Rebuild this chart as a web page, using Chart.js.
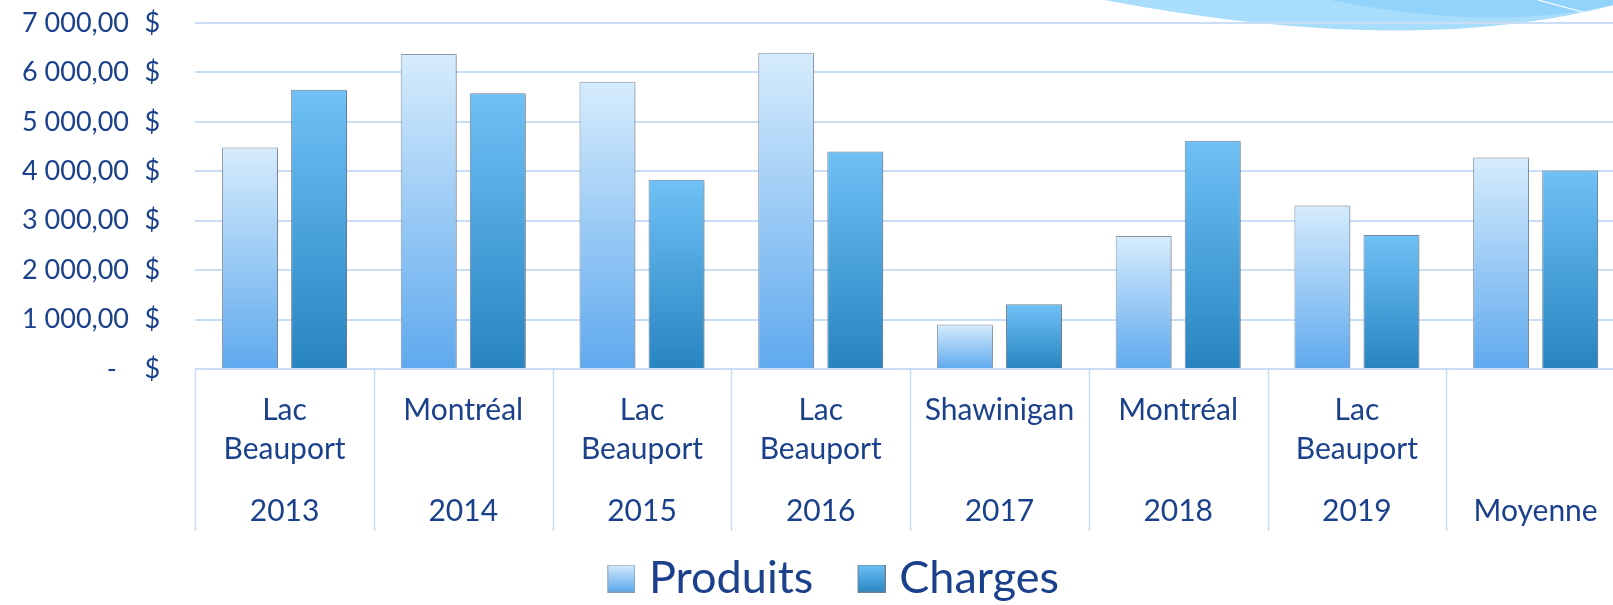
<!DOCTYPE html>
<html lang="fr">
<head>
<meta charset="utf-8">
<title>Produits et charges</title>
<script src="https://cdn.jsdelivr.net/npm/chart.js@4.4.0/dist/chart.umd.min.js"></script>
<style>
    html, body { margin: 0; padding: 0; background: #fff; overflow: hidden; }
    #wrap { position: relative; width: 1654px; height: 611px; }
</style>
</head>
<body>
<div id="wrap"><canvas id="chart"></canvas></div>
<script>
// Data
const cities = [['Lac', 'Beauport'], 'Montréal', ['Lac', 'Beauport'], ['Lac', 'Beauport'], 'Shawinigan', 'Montréal', ['Lac', 'Beauport'], ''];
const years = ['2013', '2014', '2015', '2016', '2017', '2018', '2019', 'Moyenne'];
const produits = [4480, 6375, 5810, 6400, 900, 2690, 3310, 4281];
const charges = [5650, 5580, 3830, 4400, 1310, 4620, 2710, 4014];

const TEXT = '#1b408c';
const GRID = '#c9ddf5';

function barGradient(topColor, bottomColor) {
    return function(context) {
        const chart = context.chart;
        if (!chart.chartArea || context.type !== 'data') return bottomColor;
        const y = chart.scales.y;
        const g = chart.ctx.createLinearGradient(0, y.getPixelForValue(context.raw), 0, y.getPixelForValue(0));
        g.addColorStop(0, topColor);
        g.addColorStop(1, bottomColor);
        return g;
    };
}

// Legend swatch drawn on a small canvas, square on the right side
function legendSwatch(topColor, bottomColor, border) {
    const c = document.createElement('canvas');
    c.width = 56; c.height = 28;
    const cx = c.getContext('2d');
    const g = cx.createLinearGradient(0, 0, 0, 27);
    g.addColorStop(0, topColor);
    g.addColorStop(1, bottomColor);
    cx.fillStyle = g;
    cx.fillRect(28.5, 0.5, 27, 27);
    cx.strokeStyle = border;
    cx.lineWidth = 1;
    cx.strokeRect(28.5, 0.5, 27, 27);
    return c;
}

function money(v) {
    if (v === 0) return '-\u00a0\u00a0\u00a0\u00a0$';
    return v.toFixed(2).replace('.', ',').replace(/\B(?=(\d{3})+(?!\d))/g, '\u00a0') + '\u00a0\u00a0\u200a$';
}

const decoPlugin = {
    id: 'deco',
    beforeDraw(chart) {
        const ctx = chart.ctx;
        ctx.save();
        ctx.fillStyle = 'rgba(160, 217, 252, 0.9)';
        ctx.beginPath();
        ctx.moveTo(1104, 0);
        ctx.quadraticCurveTo(1420, 60, 1625, 2);
        ctx.lineTo(1625, 0);
        ctx.closePath();
        ctx.fill();
        ctx.fillStyle = 'rgba(130, 205, 250, 0.6)';
        ctx.beginPath();
        ctx.moveTo(1330, 0);
        ctx.quadraticCurveTo(1500, 34, 1625, 2);
        ctx.lineTo(1625, 0);
        ctx.closePath();
        ctx.fill();
        ctx.strokeStyle = '#ffffff';
        ctx.lineWidth = 1.2;
        ctx.beginPath();
        ctx.moveTo(1538, 0);
        ctx.lineTo(1590, 14);
        ctx.stroke();
        ctx.restore();
    }
};

const separatorPlugin = {
    id: 'separators',
    afterDraw(chart) {
        const x = chart.scales.x;
        const x2 = chart.scales.x2;
        const ctx = chart.ctx;
        ctx.save();
        ctx.strokeStyle = GRID;
        ctx.lineWidth = 1.5;
        for (let i = 0; i <= years.length; i++) {
            const px = Math.round(x.getPixelForValue(i - 0.5)) + 0.5;
            ctx.beginPath();
            ctx.moveTo(px, chart.chartArea.bottom);
            ctx.lineTo(px, x2.bottom);
            ctx.stroke();
        }
        ctx.restore();
    }
};

const shadowPlugin = {
    id: 'barShadow',
    beforeDatasetsDraw(chart) {
        const ctx = chart.ctx;
        ctx.save();
        ctx.shadowColor = 'rgba(0, 0, 0, 0.22)';
        ctx.shadowBlur = 4;
        ctx.shadowOffsetX = 2;
        ctx.shadowOffsetY = 1;
    },
    afterDatasetsDraw(chart) {
        chart.ctx.restore();
    }
};

const swatches = [
    legendSwatch('#d6ecfc', '#5fa9ee', '#8a9bb0'),
    legendSwatch('#6fc1f6', '#2a87c4', '#6f8196')
];

new Chart(document.getElementById('chart'), {
    type: 'bar',
    data: {
        labels: cities,
        datasets: [
            {
                label: 'Produits',
                data: produits,
                backgroundColor: barGradient('#d6ecfc', '#5fa9ee'),
                borderColor: '#8e9db1',
                borderWidth: 1,
                categoryPercentage: 0.773,
                barPercentage: 0.81
            },
            {
                label: 'Charges',
                data: charges,
                backgroundColor: barGradient('#6fc1f6', '#2784c0'),
                borderColor: '#7b8ca2',
                borderWidth: 1,
                categoryPercentage: 0.773,
                barPercentage: 0.81
            }
        ]
    },
    options: {
        responsive: true,
        maintainAspectRatio: false,
        animation: false,
        layout: {
            padding: { left: 22, right: 29, top: 23, bottom: 0 }
        },
        scales: {
            y: {
                min: 0,
                max: 7000,
                ticks: {
                    stepSize: 1000,
                    autoSkip: false,
                    padding: 0,
                    color: TEXT,
                    font: { family: 'Lato', size: 27 },
                    callback: value => money(value)
                },
                grid: { color: GRID, lineWidth: 2, drawTicks: true, tickLength: 35, tickColor: 'rgba(0,0,0,0)' },
                border: { display: false }
            },
            x: {
                offset: true,
                weight: 0,
                grid: { display: false, tickLength: 21.5 },
                border: { display: false },
                ticks: {
                    autoSkip: false,
                    maxRotation: 0,
                    padding: 0,
                    color: TEXT,
                    font: { family: 'Lato', size: 30, lineHeight: 1.3 }
                }
            },
            x2: {
                type: 'category',
                labels: years,
                position: 'bottom',
                offset: true,
                weight: 1,
                grid: { display: false, tickLength: 23.5 },
                border: { display: false },
                ticks: {
                    autoSkip: false,
                    maxRotation: 0,
                    padding: 0,
                    color: TEXT,
                    font: { family: 'Lato', size: 30, lineHeight: 1.3 }
                }
            }
        },
        plugins: {
            legend: {
                position: 'bottom',
                labels: {
                    usePointStyle: true,
                    pointStyleWidth: 38.5,
                    padding: 25,
                    color: TEXT,
                    font: { family: 'Lato', size: 45 },
                    generateLabels: function(chart) {
                        const items = Chart.defaults.plugins.legend.labels.generateLabels(chart);
                        items.forEach((item, i) => { item.pointStyle = swatches[i]; });
                        return items;
                    }
                }
            },
            tooltip: { enabled: false }
        }
    },
    plugins: [decoPlugin, shadowPlugin, separatorPlugin]
});
</script>
</body>
</html>
